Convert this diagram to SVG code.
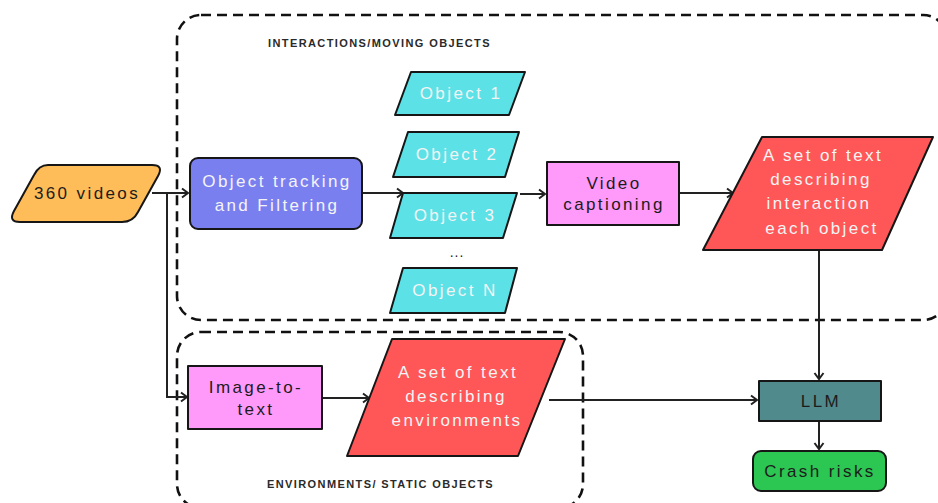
<svg xmlns="http://www.w3.org/2000/svg" width="938" height="503" viewBox="0 0 938 503">
  <style>
    .zone { fill: none; stroke: #111; stroke-width: 2.6; stroke-dasharray: 10 6; }
    .zone-label { font-family: "Liberation Sans", Arial, sans-serif; font-weight: bold; font-size: 11px; letter-spacing: 1.4px; fill: #2a2a2a; }
    .shape { stroke: #161616; stroke-width: 2; stroke-linejoin: round; }
    .txt { font-family: "Liberation Sans", Arial, sans-serif; font-size: 17px; letter-spacing: 2.4px; text-anchor: middle; }
    .light { fill: #f4f4f4; }
    .dark { fill: #1c1c1c; }
    .link { fill: none; stroke: #222; stroke-width: 2; }
  </style>
  <defs>
    <marker id="arrow" markerUnits="userSpaceOnUse" markerWidth="12" markerHeight="12" refX="9" refY="6" orient="auto">
      <path d="M3,1.5 L9,6 L3,10.5" fill="none" stroke="#222" stroke-width="2"/>
    </marker>
  </defs>

  <rect width="938" height="503" fill="#ffffff"/>

  <!-- dashed zones -->
  <g id="zone-moving">
    <rect class="zone" x="177" y="15" width="770" height="305" rx="24"/>
    <text class="zone-label" x="268" y="47">INTERACTIONS/MOVING OBJECTS</text>
  </g>
  <g id="zone-static">
    <rect class="zone" x="177" y="332" width="406" height="176" rx="24"/>
    <text class="zone-label" x="267" y="488">ENVIRONMENTS/ STATIC OBJECTS</text>
  </g>

  <!-- connectors -->
  <g id="connectors">
    <path class="link" d="M152,193 H188" marker-end="url(#arrow)"/>
    <path class="link" d="M167,193 V397 H187" marker-end="url(#arrow)"/>
    <path class="link" d="M362,193 H403" marker-end="url(#arrow)"/>
    <path class="link" d="M520,194 H545" marker-end="url(#arrow)"/>
    <path class="link" d="M679,193 H733" marker-end="url(#arrow)"/>
    <path class="link" d="M819,250 V379" marker-end="url(#arrow)"/>
    <path class="link" d="M322,398 H369" marker-end="url(#arrow)"/>
    <path class="link" d="M549,400 H757" marker-end="url(#arrow)"/>
    <path class="link" d="M819,421 V449" marker-end="url(#arrow)"/>
  </g>

  <!-- nodes -->
  <g id="videos">
    <path class="shape" fill="#ffbd59" d="M48,165 H152 Q164,165 158,176 L138,212 Q133,222 122,222 H20 Q8,222 14,211 L34,175 Q39,165 48,165 Z"/>
    <text class="txt dark" x="87" y="199">360 videos</text>
  </g>

  <g id="tracking">
    <rect class="shape" fill="#7a7ff0" x="190" y="158" width="172" height="71" rx="8"/>
    <text class="txt light" x="277" y="187">Object tracking</text>
    <text class="txt light" x="277" y="211">and Filtering</text>
  </g>

  <g id="object-1">
    <polygon class="shape" fill="#5ce1e6" points="411,72 525,72 509,115 395,115"/>
    <text class="txt light" x="461" y="99">Object 1</text>
  </g>
  <g id="object-2">
    <polygon class="shape" fill="#5ce1e6" points="408,132 519,132 505,177 393,177"/>
    <text class="txt light" x="457" y="160">Object 2</text>
  </g>
  <g id="object-3">
    <polygon class="shape" fill="#5ce1e6" points="403,193 517,193 503,238 390,238"/>
    <text class="txt light" x="455" y="221">Object 3</text>
  </g>
  <text class="txt dark" x="457" y="257" style="font-size:14px;letter-spacing:1px">...</text>
  <g id="object-n">
    <polygon class="shape" fill="#5ce1e6" points="403,268 517,268 505,313 390,313"/>
    <text class="txt light" x="455" y="296">Object N</text>
  </g>

  <g id="captioning">
    <rect class="shape" fill="#ff99fa" x="547" y="162" width="132" height="63"/>
    <text class="txt dark" x="614" y="189">Video</text>
    <text class="txt dark" x="614" y="210">captioning</text>
  </g>

  <g id="interaction-text">
    <polygon class="shape" fill="#ff5757" points="762,137 933,137 882,250 703,250"/>
    <text class="txt light" x="823" y="161">A set of text</text>
    <text class="txt light" x="821" y="185">describing</text>
    <text class="txt light" x="819" y="209">interaction</text>
    <text class="txt light" x="822" y="234">each object</text>
  </g>

  <g id="image-to-text">
    <rect class="shape" fill="#ff99fa" x="188" y="366" width="134" height="63"/>
    <text class="txt dark" x="256" y="393">Image-to-</text>
    <text class="txt dark" x="256" y="415">text</text>
  </g>

  <g id="environment-text">
    <polygon class="shape" fill="#ff5757" points="392,339 565,339 518,456 347,456"/>
    <text class="txt light" x="458" y="378">A set of text</text>
    <text class="txt light" x="456" y="402">describing</text>
    <text class="txt light" x="457" y="426">environments</text>
  </g>

  <g id="llm">
    <rect class="shape" fill="#518a8c" x="759" y="381" width="122" height="40"/>
    <text class="txt dark" x="821" y="407">LLM</text>
  </g>

  <g id="crash-risks">
    <rect class="shape" fill="#2cc652" x="753" y="451" width="133" height="40" rx="8"/>
    <text class="txt dark" x="820" y="477">Crash risks</text>
  </g>
</svg>
